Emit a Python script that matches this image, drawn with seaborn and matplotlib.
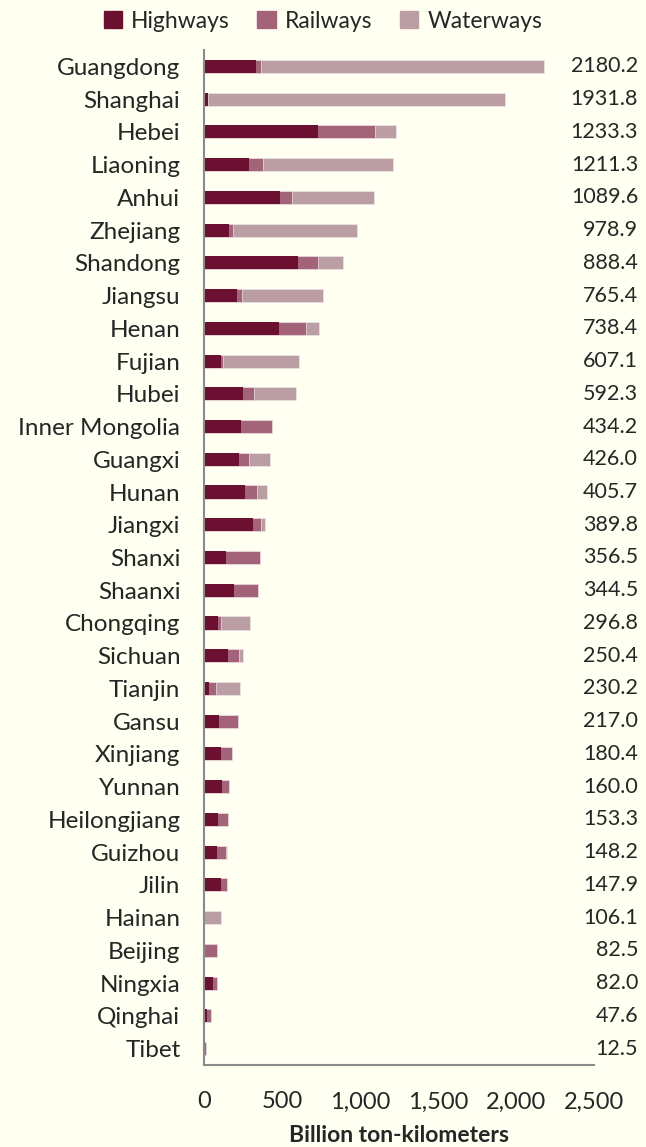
import pandas as pd
import numpy as np
import matplotlib
matplotlib.use('Agg')
import matplotlib.pyplot as plt
import seaborn as sns

# data (billion ton-km)
provinces = ['Guangdong', 'Shanghai', 'Hebei', 'Liaoning', 'Anhui', 'Zhejiang', 'Shandong',
             'Jiangsu', 'Henan', 'Fujian', 'Hubei', 'Inner Mongolia', 'Guangxi', 'Hunan',
             'Jiangxi', 'Shanxi', 'Shaanxi', 'Chongqing', 'Sichuan', 'Tianjin', 'Gansu',
             'Xinjiang', 'Yunnan', 'Heilongjiang', 'Guizhou', 'Jilin', 'Hainan', 'Beijing',
             'Ningxia', 'Qinghai', 'Tibet']
highways = [336, 24, 729, 289, 488, 158, 603, 210, 481, 109, 250, 240, 224, 265,
            314, 141, 192, 90, 152, 32, 94, 109, 115, 90, 83, 107, 0, 6, 56, 22, 5]
railways = [27, 2, 370, 91, 74, 26, 126, 32, 173, 13, 69, 194.2, 65, 75,
            49, 215.5, 152.5, 17, 75, 43, 123, 71.4, 45, 63.3, 58, 40.9, 0, 76.5, 26, 25.6, 7.5]
totals = [2180.2, 1931.8, 1233.3, 1211.3, 1089.6, 978.9, 888.4, 765.4, 738.4, 607.1,
          592.3, 434.2, 426.0, 405.7, 389.8, 356.5, 344.5, 296.8, 250.4, 230.2, 217.0,
          180.4, 160.0, 153.3, 148.2, 147.9, 106.1, 82.5, 82.0, 47.6, 12.5]

df = pd.DataFrame({'Province': provinces, 'Highways': highways,
                   'Railways': railways, 'Total': totals})
df['HR'] = df['Highways'] + df['Railways']

BG = '#FFFFF2'
C_HW = '#6B1030'
C_RW = '#A3647A'
C_WW = '#BA9EA4'
AX_C = '#8A8A8A'

sns.set_style('white')
plt.rcParams['font.family'] = ['Lato', 'DejaVu Sans']

fig = plt.figure(figsize=(6.46, 11.47), dpi=100, facecolor=BG)
ax = fig.add_axes([204 / 646, 1 - 1065 / 1147, 390 / 646, 1015 / 1147])
ax.set_facecolor(BG)

# stacked bars: draw cumulative totals back to front
sns.barplot(data=df, x='Total', y='Province', color=C_WW, width=0.4, saturation=1,
            edgecolor='#EEE4E6', linewidth=0.5, orient='h', ax=ax)
sns.barplot(data=df, x='HR', y='Province', color=C_RW, width=0.4, saturation=1,
            edgecolor='#EEE4E6', linewidth=0.5, orient='h', ax=ax)
sns.barplot(data=df, x='Highways', y='Province', color=C_HW, width=0.4, saturation=1,
            linewidth=0, orient='h', ax=ax)

ax.set_xlim(0, 2500)
ax.set_ylim(len(provinces) - 0.5, -0.5)
ax.set_xticks(range(0, 2501, 500))
ax.set_xticklabels([f'{v:,}' for v in range(0, 2501, 500)], fontsize=17)
ax.set_yticks(range(len(provinces)))
ax.set_yticklabels(provinces, fontsize=17.5)
ax.set_yticks(np.arange(-0.5, len(provinces)), minor=True)
ax.tick_params(axis='y', which='major', length=0, pad=17)
ax.tick_params(axis='y', which='minor', length=7, width=1.5, color=AX_C, direction='out')
ax.tick_params(axis='x', length=8, width=1.5, color=AX_C, direction='out', pad=11)
ax.set_xlabel('Billion ton-kilometers', fontsize=16.5, fontweight='bold', labelpad=9)
ax.set_ylabel('')

for s in ['top', 'right']:
    ax.spines[s].set_visible(False)
for s in ['left', 'bottom']:
    ax.spines[s].set_color(AX_C)
    ax.spines[s].set_linewidth(1.5)

# totals on the right
for i, t in enumerate(totals):
    ax.text(1.113, i, f'{t:.1f}', transform=ax.get_yaxis_transform(),
            ha='right', va='center', fontsize=15.5, clip_on=False)

# legend
handles = [plt.Rectangle((0, 0), 1, 1, color=c) for c in (C_HW, C_RW, C_WW)]
fig.legend(handles, ['Highways', 'Railways', 'Waterways'], loc='center',
           bbox_to_anchor=(0.50, 1 - 21 / 1147), ncol=3, frameon=False, fontsize=16.5,
           handlelength=0.8, handleheight=0.8, handletextpad=0.4, columnspacing=1.2)

fig.savefig('out.png', dpi=100, facecolor=BG)
